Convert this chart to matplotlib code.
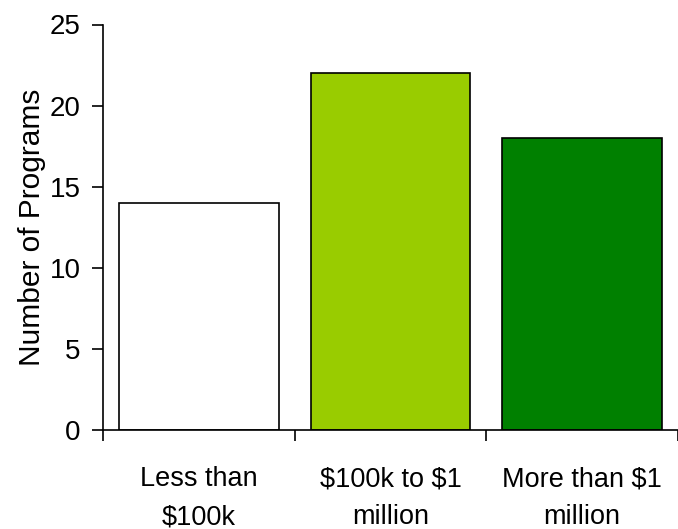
import matplotlib
matplotlib.use("Agg")
import matplotlib.pyplot as plt

categories = ["Less than\n$100k", "$100k to $1\nmillion", "More than $1\nmillion"]
programs = [14, 22, 18]
bar_colors = ["#FFFFFF", "#99CC00", "#008000"]

plt.rcParams["font.family"] = ["Liberation Sans", "DejaVu Sans"]
plt.rcParams["text.parse_math"] = False

fig = plt.figure(figsize=(6.78, 5.29), dpi=100)
ax = fig.add_axes([103 / 678, 1 - 430 / 529, 1 - 103 / 678, (430 - 24.5) / 529])

x = list(range(len(categories)))
ax.bar(x, programs, width=0.834, color=bar_colors, edgecolor="black", linewidth=1.2, zorder=2)

ax.set_xlim(-0.5, -0.5 + 575 / 193.7)
ax.set_ylim(0, 25)
ax.set_yticks([0, 5, 10, 15, 20, 25])
ax.set_xticks([-0.5, 0.5, 1.5, 2.5])
ax.set_xticklabels([])
ax.set_xticks(x, minor=True)
ax.set_xticklabels(categories, minor=True, fontsize=19.5, linespacing=1.6)
ax.tick_params(axis="x", which="minor", length=0, pad=26)
ax.tick_params(axis="x", which="major", length=8, width=1.2, direction="out")
ax.tick_params(axis="y", length=8, width=1.2, direction="out", labelsize=20, pad=8)

ax.set_ylabel("Number of Programs", fontsize=21.5, labelpad=3)

for side in ["top", "right"]:
    ax.spines[side].set_visible(False)
for side in ["left", "bottom"]:
    ax.spines[side].set_linewidth(1.2)
    ax.spines[side].set_color("black")

fig.savefig("out.png", dpi=100)
